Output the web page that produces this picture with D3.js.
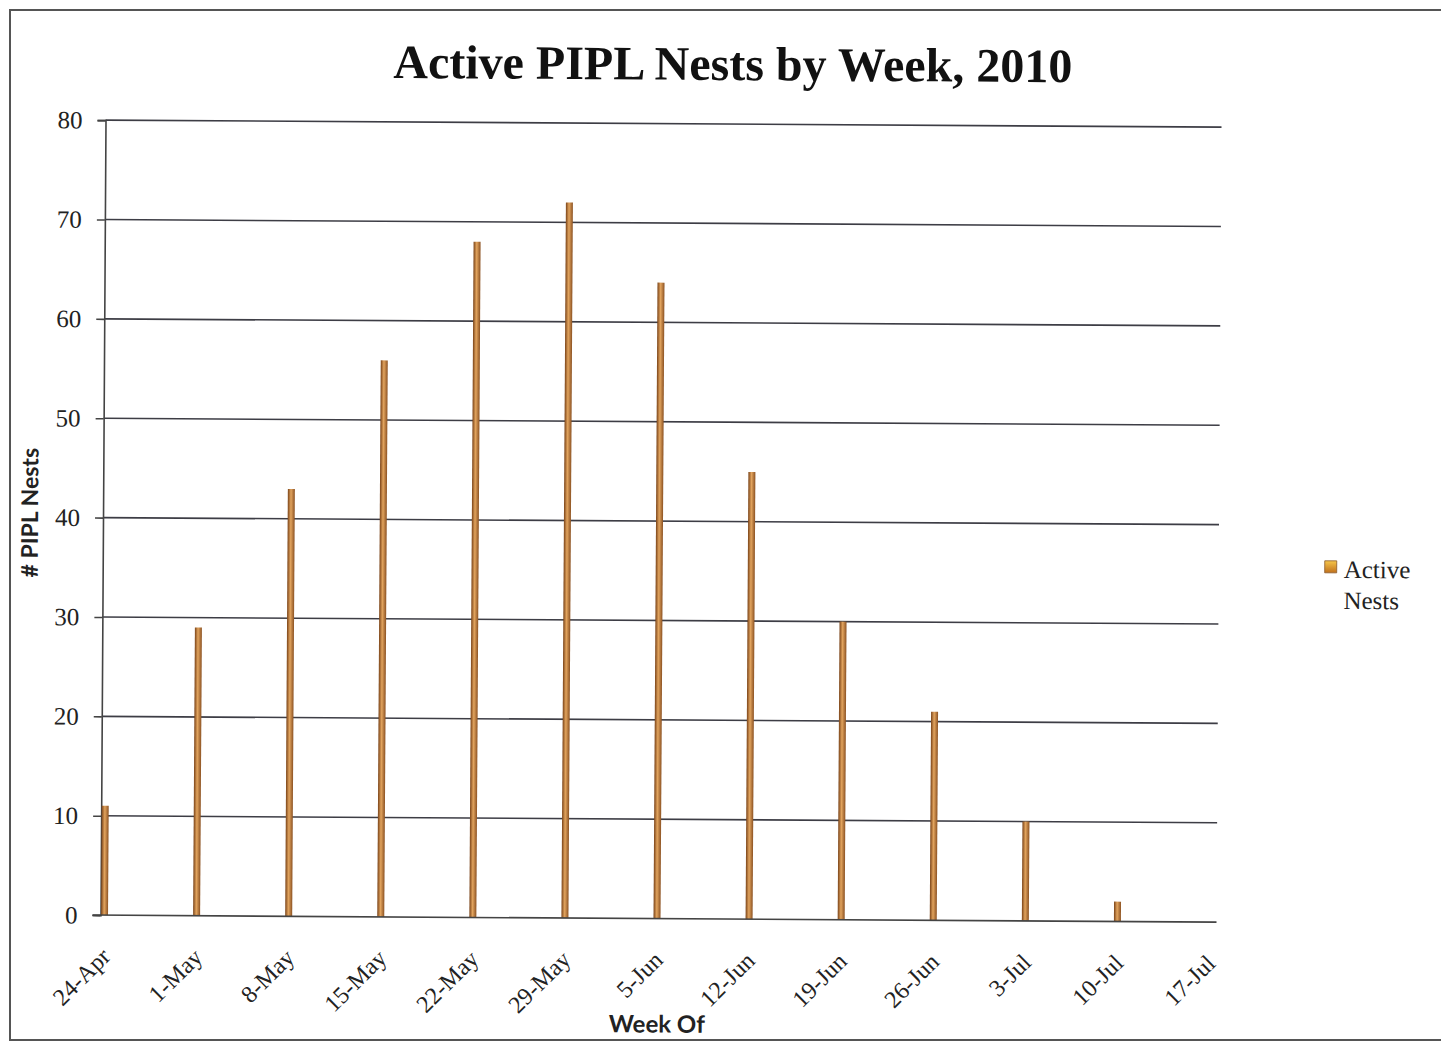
<!DOCTYPE html>
<html>
<head>
<meta charset="utf-8">
<script src="https://cdn.jsdelivr.net/npm/d3@7"></script>
<style>
  body { margin: 0; background: #fff; }
  .tick text { font-family: "Liberation Serif", serif; fill: #222; }
</style>
</head>
<body>
<div id="chart"></div>
<script>
// weeks and active nest counts
const weeks = ["24-Apr", "1-May", "8-May", "15-May", "22-May", "29-May", "5-Jun",
    "12-Jun", "19-Jun", "26-Jun", "3-Jul", "10-Jul", "17-Jul"];
const activeNests = [11, 29, 43, 56, 68, 72, 64, 45, 30, 21, 10, 2, null];
const yTicks = [0, 10, 20, 30, 40, 50, 60, 70, 80];

const W = 1441, H = 1043;
const m = { left: 103, right: 1219, top: 124, bottom: 919 };

const svg = d3.select("#chart").append("svg")
    .attr("width", W).attr("height", H);

// bar gradient, cylinder look
const grad = svg.append("defs").append("linearGradient")
    .attr("id", "barGrad").attr("x1", "0").attr("x2", "1").attr("y1", "0").attr("y2", "0");
grad.append("stop").attr("offset", "0%").attr("stop-color", "#7a4318");
grad.append("stop").attr("offset", "45%").attr("stop-color", "#e2a45e");
grad.append("stop").attr("offset", "100%").attr("stop-color", "#8c5222");

const legGrad = svg.select("defs").append("linearGradient")
    .attr("id", "legGrad").attr("x1", "0").attr("x2", "0").attr("y1", "0").attr("y2", "1");
legGrad.append("stop").attr("offset", "0%").attr("stop-color", "#f6c64a");
legGrad.append("stop").attr("offset", "100%").attr("stop-color", "#c0701c");

// outer frame (only top, left, bottom visible in the scan)
svg.append("rect")
    .attr("x", 10).attr("y", 10).attr("width", 1450).attr("height", 1030)
    .attr("fill", "none").attr("stroke", "#555").attr("stroke-width", 2);

// the chart in the scan is slightly tilted
const g = svg.append("g").attr("transform", `rotate(0.36, ${W / 2}, ${H / 2})`);

const x = d3.scalePoint().domain(weeks).range([m.left + 4, m.right - 7]);
const y = d3.scaleLinear().domain([0, 80]).range([m.bottom, m.top]);

// gridlines
g.append("g").selectAll("line")
    .data(yTicks.filter(d => d > 0))
    .join("line")
    .attr("x1", m.left).attr("x2", m.right)
    .attr("y1", d => y(d)).attr("y2", d => y(d))
    .attr("stroke", "#3d3d45").attr("stroke-width", 1.6);

// y axis
const yAxis = g.append("g").attr("transform", `translate(${m.left},0)`)
    .call(d3.axisLeft(y).tickValues(yTicks).tickSize(8).tickPadding(15));
yAxis.select(".domain").attr("stroke", "#444").attr("stroke-width", 1.6);
yAxis.selectAll(".tick line").attr("stroke", "#444").attr("stroke-width", 1.6);
yAxis.selectAll(".tick text").style("font-size", "25px");

// bars
const bw = 7;
g.append("g").selectAll("rect")
    .data(weeks.map((w, i) => ({ w, v: activeNests[i] })).filter(d => d.v != null))
    .join("rect")
    .attr("x", d => x(d.w) - bw / 2)
    .attr("width", bw)
    .attr("y", d => y(d.v))
    .attr("height", d => y(0) - y(d.v))
    .attr("fill", "url(#barGrad)");

// x axis
const xAxis = g.append("g").attr("transform", `translate(0,${m.bottom})`)
    .call(d3.axisBottom(x).tickSize(0).tickPadding(0));
xAxis.select(".domain").attr("d", `M${m.left - 8},0H${m.right}`)
    .attr("stroke", "#444").attr("stroke-width", 1.6);
xAxis.selectAll(".tick text")
    .style("font-size", "24px")
    .attr("text-anchor", "end")
    .attr("dy", "0")
    .attr("transform", "translate(7,43) rotate(-45)");

// titles
g.append("text")
    .attr("x", 730).attr("y", 80)
    .attr("text-anchor", "middle")
    .style("font-family", "Liberation Serif, serif")
    .style("font-weight", "bold")
    .style("font-size", "48px")
    .attr("fill", "#111")
    .text("Active PIPL Nests by Week, 2010");

g.append("text")
    .attr("transform", `translate(38,517) rotate(-90)`)
    .attr("text-anchor", "middle")
    .style("font-family", "Lato, sans-serif")
    .style("font-weight", "bold")
    .style("font-size", "23px")
    .attr("fill", "#222")
    .text("# PIPL Nests");

g.append("text")
    .attr("x", 660).attr("y", 1033)
    .attr("text-anchor", "middle")
    .style("font-family", "Lato, sans-serif")
    .style("font-weight", "bold")
    .style("font-size", "24px")
    .attr("fill", "#222")
    .text("Week Of");

// legend
const leg = g.append("g").attr("transform", "translate(1325,557)");
leg.append("rect").attr("width", 12).attr("height", 12)
    .attr("fill", "url(#legGrad)").attr("stroke", "#8a5a2a").attr("stroke-width", 0.8);
leg.append("text").attr("x", 19).attr("y", 17)
    .style("font-family", "Liberation Serif, serif").style("font-size", "25px").attr("fill", "#222")
    .text("Active");
leg.append("text").attr("x", 19).attr("y", 48)
    .style("font-family", "Liberation Serif, serif").style("font-size", "25px").attr("fill", "#222")
    .text("Nests");
</script>
</body>
</html>
